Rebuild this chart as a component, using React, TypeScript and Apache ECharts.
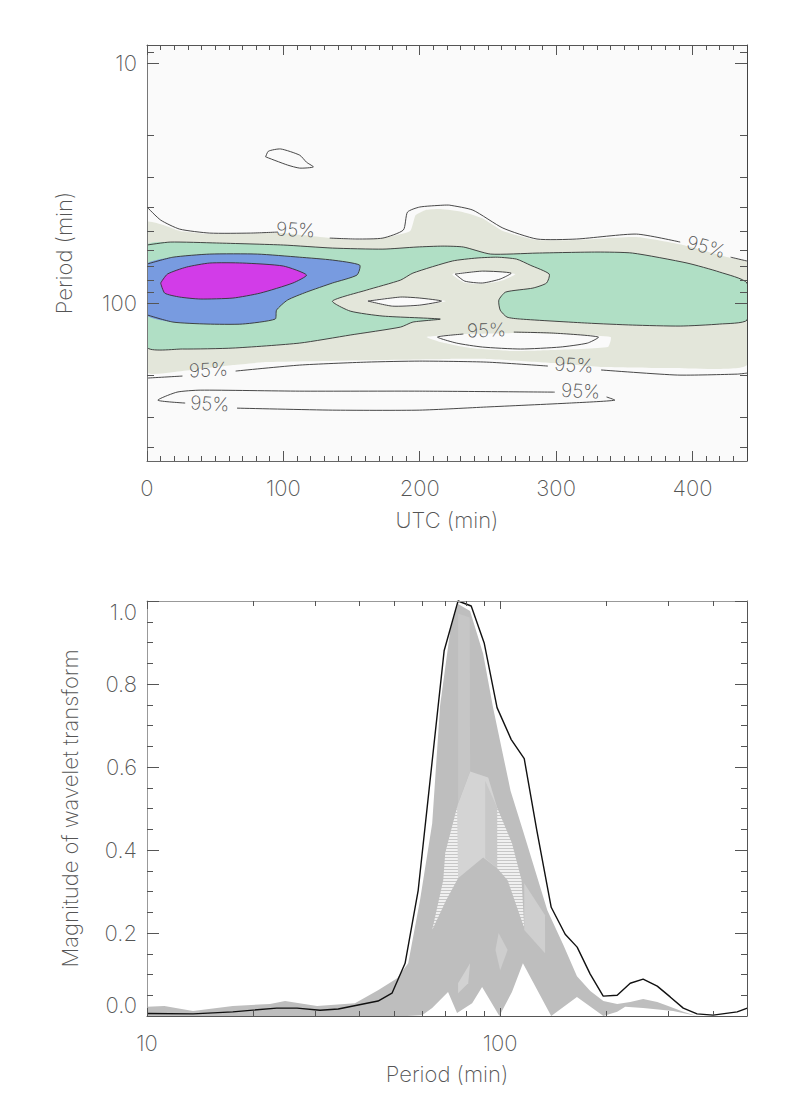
import * as echarts from "echarts";
import { useEffect, useRef } from "react";

type Pt = number[];

// top panel: contour outlines as [UTC min, period min]
const beigeRegion: Pt[] = [[0, 46], [12, 47.3], [24, 50.1], [46, 51.6], [98, 51.1], [134, 53.6], [154, 54.6], [173, 53.6], [193, 50.1], [197, 43], [204, 41], [215, 40.6], [232, 41.8], [246, 44.3], [261, 50.1], [286, 54.6], [315, 54.6], [359, 53.1], [393, 57.3], [428, 64.9], [440, 67.5], [440, 181.3], [384, 186.5], [334, 184.8], [298, 177.8], [249, 171], [222, 171], [88, 176.2], [63, 181.3], [26, 192], [0, 194]];
const holeA: Pt[] = [[224, 75.7], [246, 73.6], [270, 75.7], [259, 81], [244, 83.3], [232, 81.8]];
const holeB: Pt[] = [[161, 98.1], [186, 94.4], [219, 98.1], [198, 103], [180, 103]];
const holeC: Pt[] = [[205, 138.5], [232, 134.6], [281, 133.4], [340, 138.5], [338, 152.5], [298, 156.9], [268, 158.5], [237, 154], [215, 145.4]];
const greenRegion: Pt[] = [[0, 57.3], [17, 55.7], [51, 56.2], [100, 57.3], [136, 59], [173, 59.6], [198, 58.4], [217, 57.9], [232, 58.4], [252, 62.5], [286, 61.9], [330, 61.3], [356, 61.9], [396, 68.1], [420, 74.3], [440, 82.5], [440, 117.7], [420, 122.3], [391, 124.7], [356, 123.5], [323, 121.2], [274, 116.6], [264, 114.4], [259, 107], [258, 97.2], [263, 90], [283, 86.6], [293, 82.5], [295, 75.7], [281, 69.5], [271, 65.6], [257, 64.4], [242, 64.9], [224, 66.8], [195, 75], [186, 80.2], [161, 88.3], [136, 98.1], [149, 108], [173, 113.3], [215, 116.6], [195, 120], [186, 125.9], [149, 135.9], [112, 146.8], [63, 154], [26, 155.4], [0, 152.5]];
const blueRegion: Pt[] = [[0, 68.8], [19, 64.4], [46, 62.5], [81, 62.5], [112, 64.4], [136, 66.2], [156, 69.5], [154, 76.4], [136, 82.5], [117, 90], [103, 97.2], [95, 107], [94, 116.6], [70, 122.3], [44, 122.3], [19, 120], [0, 112]];
const magentaRegion: Pt[] = [[10, 82.5], [15, 75.7], [29, 70.8], [46, 68.1], [70, 68.1], [100, 70.1], [117, 76.4], [107, 82.5], [83, 90.9], [63, 95.3], [39, 96.2], [24, 94.4], [13, 90.9]];

// 95% level lines, broken where the labels sit
const upper95a: Pt[] = [[0, 39.8], [10, 45.1], [24, 49.2], [46, 51.1], [76, 51.1], [96, 50.6]];
const upper95b: Pt[] = [[134, 53.6], [154, 54.1], [173, 53.6], [188, 49.6], [191, 41.8], [200, 39.8], [217, 39.1], [222, 39.1], [239, 41], [261, 48.7], [286, 54.1], [315, 54.1], [359, 51.6], [391, 55.7]];
const upper95c: Pt[] = [[428, 64.4], [440, 66.8]];
const lower95a: Pt[] = [[0, 205.4], [26, 201.4]];
const lower95b: Pt[] = [[65, 192], [112, 181.3], [161, 176.2], [200, 174.5], [249, 176.2], [294, 183]];
const lower95c: Pt[] = [[333, 190], [389, 199.5], [433, 197.7], [440, 195.8]];
const thin95a: Pt[] = [[28, 261], [8, 254], [22, 235], [39, 230.6], [112, 232.8], [200, 232.8], [299, 235]];
const thin95b: Pt[] = [[337, 246.2], [343, 254], [310, 261], [249, 271], [200, 279.3], [136, 279.3], [66, 274]];
const island95: Pt[] = [[87, 24.6], [89, 23.3], [98, 22.8], [112, 24.2], [117, 25.9], [122, 27.1], [112, 27.4], [103, 26.6], [87, 24.6]];
const holeA95: Pt[] = [[226, 75.7], [246, 73.6], [267, 75], [259, 79.4], [246, 82.5], [233, 81], [226, 75.7]];
const holeB95: Pt[] = [[162, 98.1], [186, 94.4], [200, 95.3], [216, 98.1], [200, 102], [180, 103], [162, 98.1]];
const holeC95: Pt[] = [[269, 132.1], [298, 133.4], [331, 138.5], [323, 146.8], [303, 152.5], [274, 155.4], [246, 152.5], [227, 146.8], [213, 138.5], [232, 134.6]];
const greenLine: Pt[] = [...greenRegion, greenRegion[0]];
const blueLine: Pt[] = [...blueRegion];
const magentaLine: Pt[] = [...magentaRegion, magentaRegion[0]];

// [UTC, period, rotation in degrees]
const labels95: number[][] = [[109, 49.6, -3], [45, 190, 3], [46, 263, -3], [249, 130, 2], [313, 181.3, -3], [318, 232.8, -3], [410, 58.4, -15]];

// bottom panel: [period min, magnitude]
const blackCurve: Pt[] = [[10, 0.006], [13.5, 0.005], [17.5, 0.01], [23.3, 0.019], [26.6, 0.019], [30.9, 0.014], [34.8, 0.017], [39.3, 0.026], [45.1, 0.036], [49.4, 0.055], [53.8, 0.127], [58.6, 0.303], [69.4, 0.88], [76, 1], [82.8, 0.988], [90.1, 0.899], [98, 0.743], [107.5, 0.666], [117, 0.62], [127, 0.447], [139.5, 0.262], [152.8, 0.197], [165.2, 0.166], [179.9, 0.101], [195.8, 0.048], [214.5, 0.05], [233.5, 0.079], [254, 0.089], [278.5, 0.072], [303, 0.046], [330, 0.019], [361, 0.005], [401, 0.002], [469, 0.01], [501, 0.019]];
const greyEnvelope: Pt[] = [[10, 0.022], [11.2, 0.024], [13.5, 0.012], [17.5, 0.024], [22.3, 0.029], [24.6, 0.036], [30.3, 0.024], [38.8, 0.031], [45.1, 0.062], [51.1, 0.091], [54.9, 0.127], [59.3, 0.279], [64.2, 0.464], [67.6, 0.748], [72.2, 0.928], [76, 0.993], [82.2, 0.976], [89.5, 0.873], [95.5, 0.743], [107, 0.543], [116, 0.447], [136, 0.255], [151, 0.171], [165, 0.096], [180, 0.06], [196, 0.036], [214.5, 0.029], [233.5, 0.034], [254, 0.041], [278.5, 0.034], [303, 0.022], [330, 0.01], [361, 0], [309, 0.012], [254, 0.019], [226, 0.022], [214.5, 0.01], [196, 0], [165, 0.046], [139.5, 0], [116, 0.127], [108, 0.058], [99.5, 0], [88.9, 0.07], [83.3, 0.031], [75.5, 0.007], [71.2, 0.058], [64.2, 0.019], [60.1, 0.002], [54.5, 0], [10, 0]];
const peakStrip: Pt[] = [[76, 0.97], [82, 0.96], [82.2, 0.589], [76, 0.512]];
const tentLayer: Pt[] = [[82.2, 0.589], [92.5, 0.575], [98.1, 0.502], [98.1, 0.356], [89.5, 0.382], [76, 0.332], [69.9, 0.392], [76, 0.512]];
const tentRight: Pt[] = [[90.7, 0.567], [98.1, 0.502], [98.1, 0.356], [90.7, 0.38]];
const moireLeft: Pt[] = [[75.5, 0.502], [69.9, 0.392], [69, 0.327], [64.2, 0.207], [70.3, 0.279], [76, 0.332]];
const moireRight: Pt[] = [[98.1, 0.502], [108, 0.416], [115, 0.327], [117, 0.212], [105, 0.327], [98.1, 0.356]];
const patchRight: Pt[] = [[117, 0.32], [117, 0.207], [134, 0.151], [134, 0.243]];
const patchLow: Pt[] = [[76, 0.079], [82.2, 0.127], [81.2, 0.079], [76, 0.055]];
const patchMid: Pt[] = [[99, 0.2], [105, 0.159], [100, 0.11], [97, 0.159]];

const utcMajor = [0, 100, 200, 300, 400];
const utcMinor = [10, 20, 30, 40, 50, 60, 70, 80, 90, 110, 120, 130, 140, 150, 160, 170, 180, 190, 210, 220, 230, 240, 250, 260, 270, 280, 290, 310, 320, 330, 340, 350, 360, 370, 380, 390, 410, 420, 430];
const logMajor = [10, 100];
const periodMinorTop = [9, 20, 30, 40, 50, 60, 70, 80, 90, 200, 300, 400];
const periodMinorBottom = [20, 30, 40, 50, 60, 70, 80, 90, 200, 300, 400];
const magMajor = [0, 0.2, 0.4, 0.6, 0.8, 1];
const magMinor = [0.05, 0.1, 0.15, 0.25, 0.3, 0.35, 0.45, 0.5, 0.55, 0.65, 0.7, 0.75, 0.85, 0.9, 0.95];

const FONT = "Inter";
const WEIGHT = 200;
const TEXT = "#555";

const baseAxis = (gridIndex: number, position: string, scale: any, values: number[], length: number, color: string, labelled: any = null) => ({
  gridIndex,
  position,
  ...scale,
  z: 10,
  splitLine: { show: false },
  axisLine: { show: !!color, onZero: false, lineStyle: { color: color || "#555", width: 1 } },
  axisTick: { show: true, inside: true, length, customValues: values, lineStyle: { color: "#555", width: 1 } },
  axisLabel: labelled
    ? { show: true, customValues: values, fontFamily: FONT, fontWeight: WEIGHT, fontSize: 22, color: TEXT, ...labelled }
    : { show: false },
});

const nameOpt = (name: string, nameGap: number) => ({
  name,
  nameLocation: "middle",
  nameGap,
  nameTextStyle: { fontFamily: FONT, fontWeight: WEIGHT, fontSize: 22, color: TEXT },
});

const area = (panel: number, pts: Pt[], fill: any, smooth = 0) => ({
  type: "custom",
  xAxisIndex: panel,
  yAxisIndex: panel,
  clip: true,
  data: [pts[0]],
  renderItem: (_p: any, api: any) => ({
    type: "polygon",
    shape: { points: pts.map((p) => api.coord(p)), smooth },
    style: { fill, stroke: "none" },
  }),
});

const contour = (pts: Pt[]) => ({
  type: "custom",
  xAxisIndex: 0,
  yAxisIndex: 0,
  clip: true,
  data: [pts[0]],
  renderItem: (_p: any, api: any) => ({
    type: "polyline",
    shape: { points: pts.map((p) => api.coord(p)), smooth: 0.2 },
    style: { fill: "none", stroke: "#333", lineWidth: 0.9 },
  }),
});

// the fine interference stripes between the overplotted grey curves
const stripes = () => {
  const canvas = document.createElement("canvas");
  canvas.width = 2;
  canvas.height = 3;
  const ctx = canvas.getContext("2d")!;
  ctx.fillStyle = "#f0f0f0";
  ctx.fillRect(0, 0, 2, 3);
  ctx.fillStyle = "#c6c6c6";
  ctx.fillRect(0, 2, 2, 1);
  return { image: canvas, repeat: "repeat" };
};

const buildOption = () => {
  const utc = { type: "value", min: 0, max: 440 };
  const periodTop = { type: "log", logBase: 10, min: 8.41, max: 455, inverse: true };
  const periodBottom = { type: "log", logBase: 10, min: 10, max: 500 };
  const magnitude = { type: "value", min: 0, max: 1 };
  const moire = stripes();

  return {
    animation: false,
    backgroundColor: "#fff",
    grid: [
      { left: 147, top: 45, width: 600, height: 416, show: true, backgroundColor: "#fafafa", borderWidth: 0 },
      { left: 147, top: 601, width: 600, height: 415, show: false },
    ],
    xAxis: [
      { ...baseAxis(0, "bottom", utc, utcMajor, 10, "#666", { margin: 16, formatter: (v: number) => String(v) }), ...nameOpt("UTC (min)", 48) },
      {
        ...baseAxis(1, "bottom", periodBottom, logMajor, 8, "#555", { margin: 16, formatter: (v: number) => String(Math.round(v)) }),
        ...nameOpt("Period (min)", 47),
      },
      baseAxis(0, "bottom", utc, utcMinor, 5, ""),
      baseAxis(0, "top", utc, utcMajor, 10, "#555"),
      baseAxis(0, "top", utc, utcMinor, 5, ""),
      baseAxis(1, "bottom", periodBottom, periodMinorBottom, 5, ""),
      baseAxis(1, "top", periodBottom, logMajor, 8, "#999"),
      baseAxis(1, "top", periodBottom, periodMinorBottom, 5, ""),
    ],
    yAxis: [
      { ...baseAxis(0, "left", periodTop, logMajor, 12, "#777", { margin: 10, formatter: (v: number) => String(Math.round(v)) }), ...nameOpt("Period (min)", 72) },
      {
        ...baseAxis(1, "left", magnitude, magMajor, 12, "#999", { margin: 10, verticalAlignMinLabel: "bottom", verticalAlignMaxLabel: "top", formatter: (v: number) => v.toFixed(1) }),
        ...nameOpt("Magnitude of wavelet transform", 66),
      },
      baseAxis(0, "left", periodTop, periodMinorTop, 7, ""),
      baseAxis(0, "right", periodTop, logMajor, 12, "#444"),
      baseAxis(0, "right", periodTop, periodMinorTop, 7, ""),
      baseAxis(1, "left", magnitude, magMinor, 6, ""),
      baseAxis(1, "right", magnitude, magMajor, 12, "#555"),
      baseAxis(1, "right", magnitude, magMinor, 6, ""),
    ],
    series: [
      area(0, beigeRegion, "#e3e6da", 0.15),
      area(0, holeA, "#fafafa", 0.2),
      area(0, holeB, "#fafafa", 0.2),
      area(0, holeC, "#fafafa", 0.15),
      area(0, greenRegion, "#b0dfc5", 0.2),
      area(0, blueRegion, "#789be0", 0.2),
      area(0, magentaRegion, "#d23ce8", 0.2),
      ...[upper95a, upper95b, upper95c, lower95a, lower95b, lower95c, thin95a, thin95b, island95, holeA95, holeB95, holeC95, greenLine, blueLine, magentaLine].map(contour),
      {
        type: "custom",
        xAxisIndex: 0,
        yAxisIndex: 0,
        data: labels95,
        encode: { x: 0, y: 1 },
        renderItem: (_p: any, api: any) => {
          const [x, y] = api.coord([api.value(0), api.value(1)]);
          return {
            type: "text",
            x,
            y,
            rotation: (api.value(2) * Math.PI) / 180,
            style: { text: "95%", fontFamily: FONT, fontWeight: WEIGHT, fontSize: 19, fill: TEXT, align: "center", verticalAlign: "middle" },
          };
        },
      },
      area(1, greyEnvelope, "#bebebe"),
      area(1, tentLayer, "#d4d4d4"),
      area(1, tentRight, "#c8c8c8"),
      area(1, peakStrip, "#c6c6c6"),
      area(1, moireLeft, moire),
      area(1, moireRight, moire),
      area(1, patchRight, "#cfcfcf"),
      area(1, patchLow, "#d2d2d2"),
      area(1, patchMid, "#cecece"),
      {
        type: "line",
        xAxisIndex: 1,
        yAxisIndex: 1,
        data: blackCurve,
        showSymbol: false,
        clip: false,
        lineStyle: { color: "#111", width: 1.4 },
      },
    ],
  };
};

export default function App() {
  const ref = useRef<HTMLDivElement | null>(null);

  useEffect(() => {
    const chart = echarts.init(ref.current, null, { renderer: "svg" });
    chart.setOption(buildOption() as any);
    return () => chart.dispose();
  }, []);

  return <div ref={ref} style={{ position: "absolute", left: 0, top: 0, width: 789, height: 1110 }} />;
}
